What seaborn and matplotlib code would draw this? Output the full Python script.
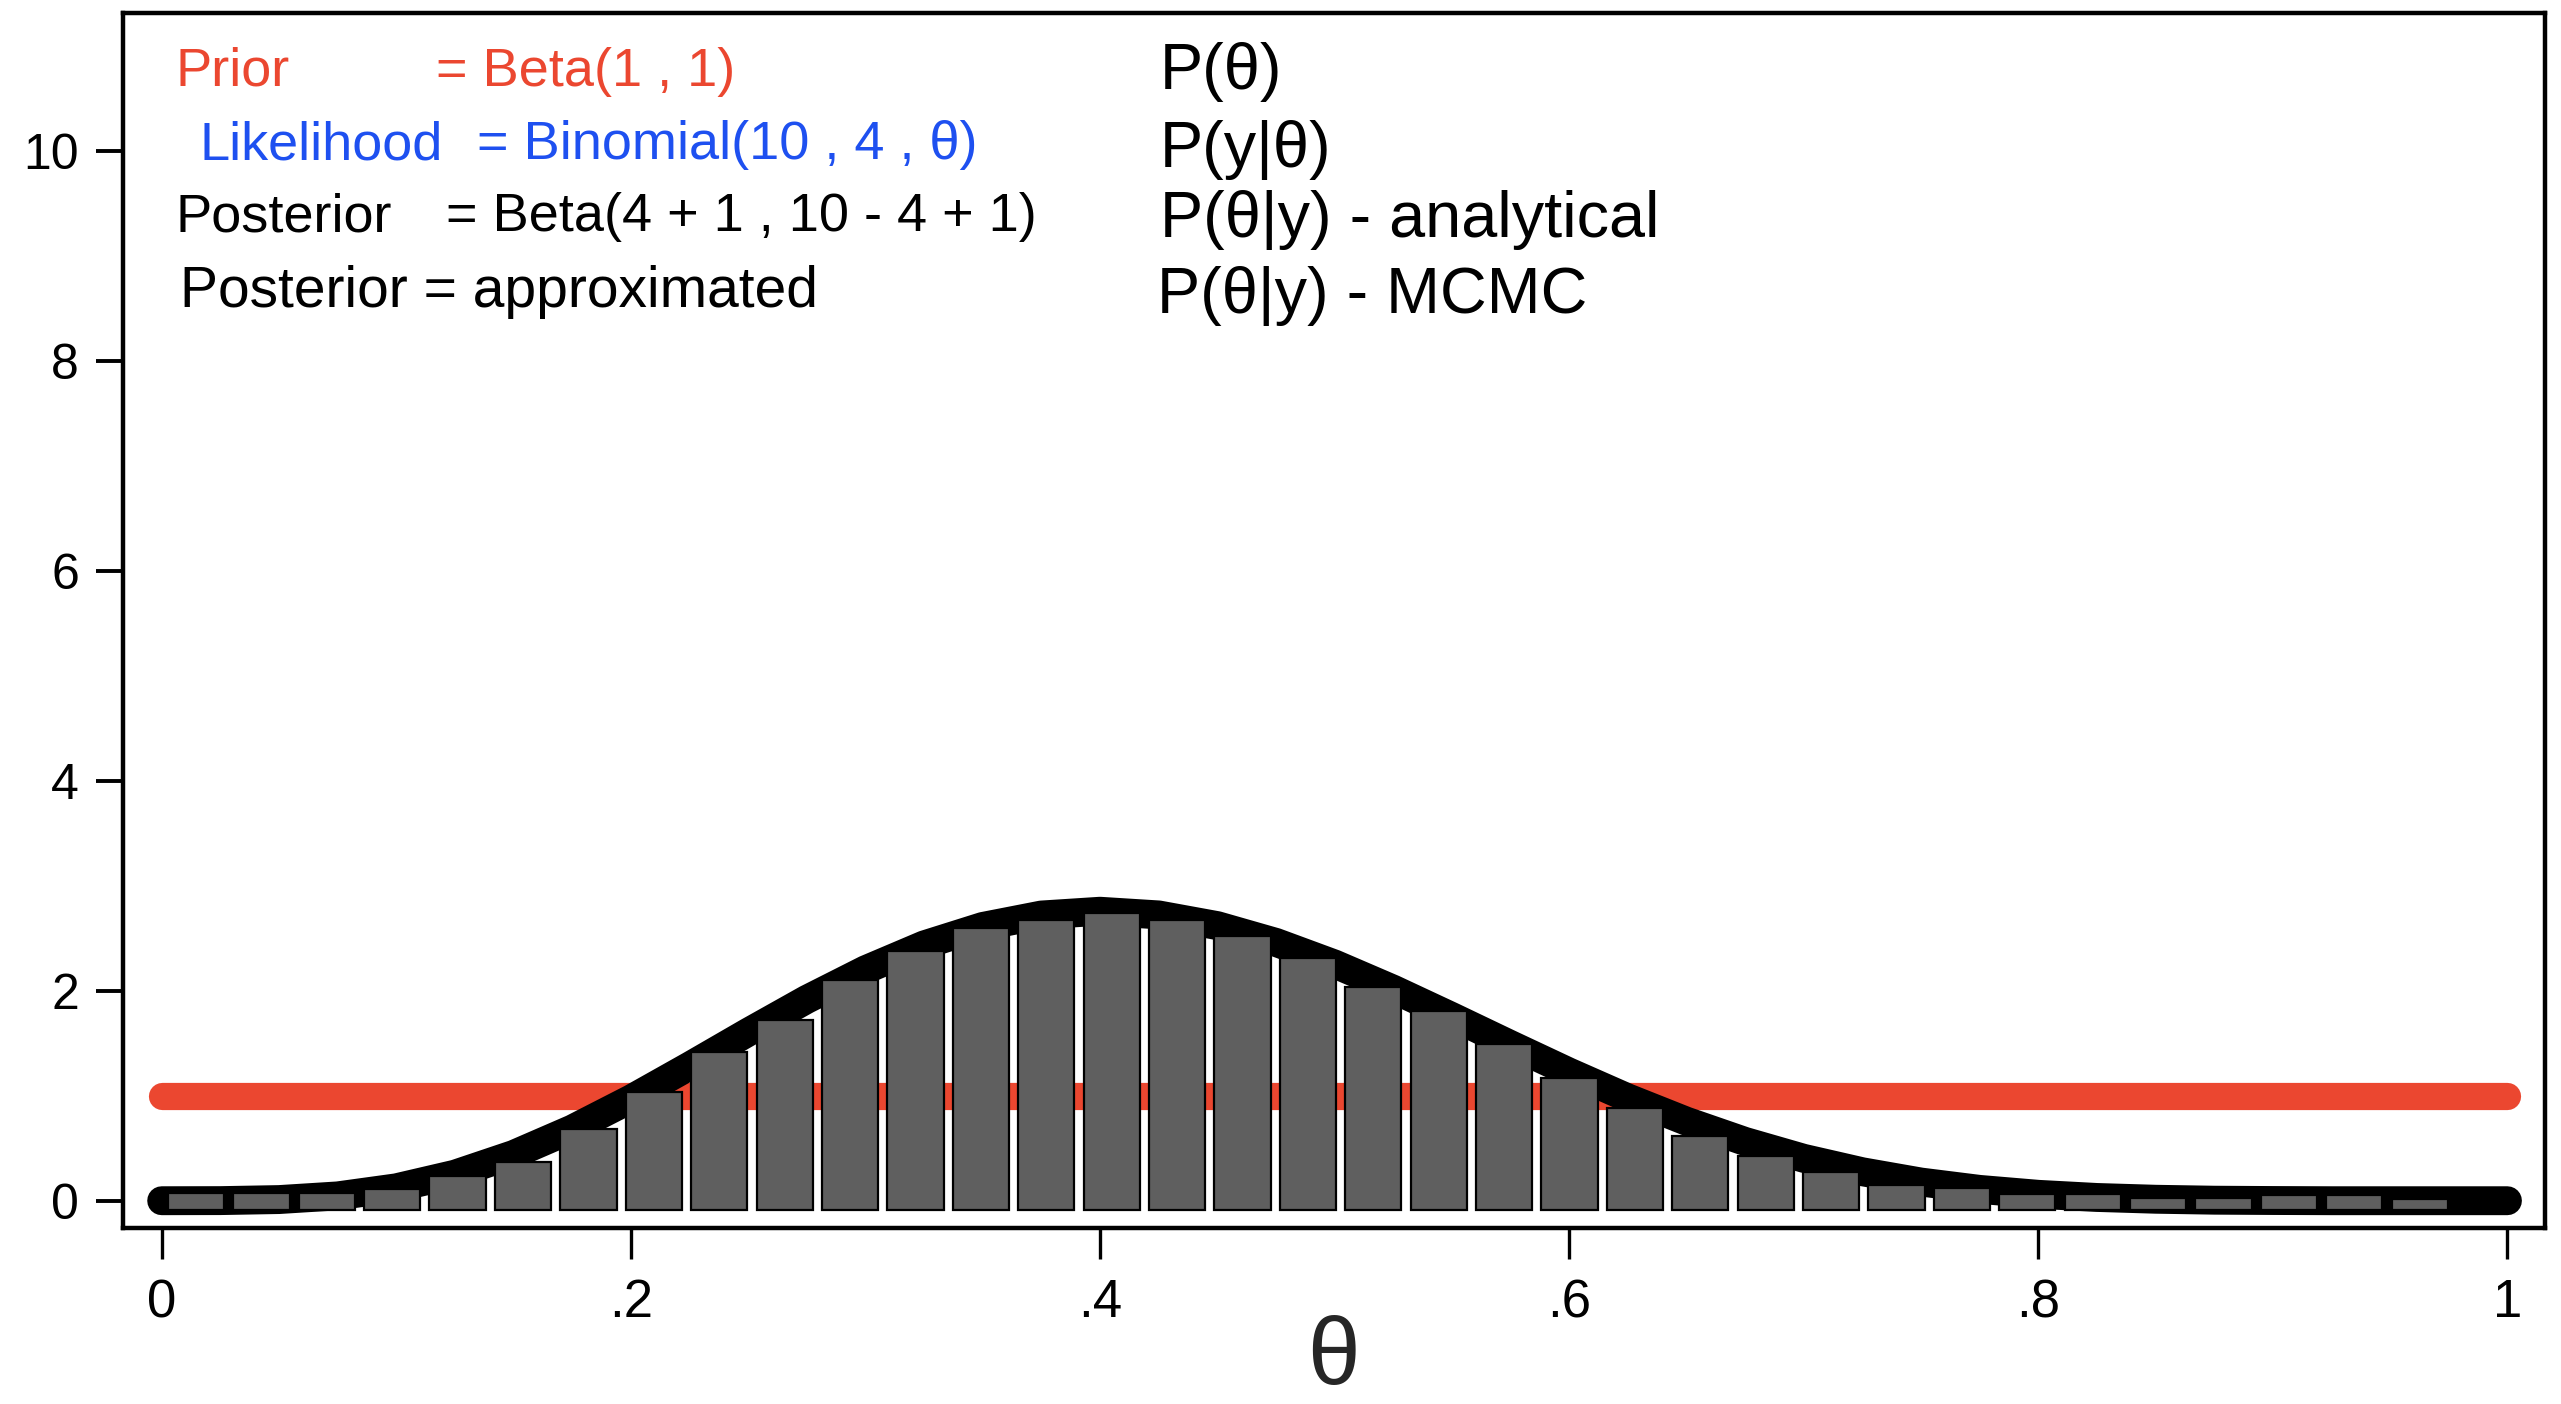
import numpy as np
import pandas as pd
import matplotlib
matplotlib.use("Agg")
import matplotlib.pyplot as plt
import seaborn as sns

# ---------------- data ----------------
theta_grid = [0.000, 0.025, 0.050, 0.075, 0.100, 0.125, 0.150, 0.175, 0.200, 0.225,
              0.250, 0.275, 0.300, 0.325, 0.350, 0.375, 0.400, 0.425, 0.450, 0.475,
              0.500, 0.525, 0.550, 0.575, 0.600, 0.625, 0.650, 0.675, 0.700, 0.725,
              0.750, 0.775, 0.800, 0.825, 0.850, 0.875, 0.900, 0.925, 0.950, 0.975, 1.000]
posterior_analytical = [0.000, 0.001, 0.011, 0.046, 0.123, 0.253, 0.441, 0.683, 0.969, 1.283,
                        1.606, 1.919, 2.201, 2.438, 2.614, 2.723, 2.759, 2.724, 2.622, 2.462,
                        2.256, 2.016, 1.755, 1.488, 1.226, 0.980, 0.758, 0.565, 0.404, 0.276,
                        0.178, 0.108, 0.061, 0.031, 0.014, 0.005, 0.002, 0.000, 0.000, 0.000, 0.000]

prior_theta = [0.0, 1.0]
prior_density = [1.0, 1.0]

# MCMC histogram: 35 bins between the smallest and largest draw
mcmc_min, mcmc_max, mcmc_bins = 0.0007, 0.9765, 35
mcmc_density = [0.07, 0.07, 0.07, 0.11, 0.24, 0.37, 0.68, 1.04, 1.42, 1.72,
                2.10, 2.38, 2.60, 2.68, 2.74, 2.68, 2.52, 2.31, 2.04, 1.81,
                1.49, 1.17, 0.88, 0.62, 0.43, 0.27, 0.15, 0.12, 0.06, 0.06,
                0.03, 0.03, 0.05, 0.05, 0.015]

x_ticks = [0, 0.2, 0.4, 0.6, 0.8, 1.0]
x_ticklabels = ["0", ".2", ".4", ".6", ".8", "1"]
y_ticks = [0, 2, 4, 6, 8, 10]
y_ticklabels = ["0", "2", "4", "6", "8", "10"]

legend_left = [("Prior", "= Beta(1 , 1)", "#EB4730"),
               ("Likelihood", "= Binomial(10 , 4 , θ)", "#1E50F0"),
               ("Posterior", "= Beta(4 + 1 , 10 - 4 + 1)", "black")]
legend_mcmc = "Posterior = approximated"
legend_right = ["P(θ)", "P(y|θ)", "P(θ|y) - analytical", "P(θ|y) - MCMC"]

# ---------------- style ----------------
sns.set_style("white")
FONT = ["Liberation Sans", "DejaVu Sans"]
plt.rcParams["font.family"] = FONT

W, H, DPI = 2561, 1404, 200
fig = plt.figure(figsize=(W / DPI, H / DPI), dpi=DPI)
ax = fig.add_axes([122.5 / W, 1 - 1228 / H, (2545 - 122.5) / W, (1228 - 13) / H])

RED = "#EB4730"
LW = 9.8  # points, ~27 px

# prior line
sns.lineplot(x=prior_theta, y=prior_density, ax=ax, color=RED, linewidth=LW,
             solid_capstyle="round", estimator=None, sort=False, zorder=2)
# analytical posterior
sns.lineplot(x=theta_grid, y=posterior_analytical, ax=ax, color="black", linewidth=LW + 0.6,
             solid_capstyle="round", estimator=None, sort=False, zorder=3)

# MCMC histogram
edges = [float(e) for e in np.linspace(mcmc_min, mcmc_max, mcmc_bins + 1)]
centers = [(a + b) / 2 for a, b in zip(edges[:-1], edges[1:])]
hist_df = pd.DataFrame({"theta": centers, "density": mcmc_density})
n_before = len(ax.patches)
sns.histplot(data=hist_df, x="theta", weights="density", bins=edges, stat="count",
             shrink=0.86, color="#5F5F5F", alpha=1, edgecolor="black", linewidth=0.8,
             ax=ax, zorder=4)
BASE = -0.09
for p in ax.patches[n_before:]:
    h = p.get_height()
    p.set_y(BASE)
    p.set_height(h - BASE)

ax.set_xlim(-0.0167, 1.016)
ax.set_ylim(-0.26, 11.32)

ax.set_xticks(x_ticks)
ax.set_xticklabels(x_ticklabels, fontsize=19)
ax.set_yticks(y_ticks)
ax.set_yticklabels(y_ticklabels, fontsize=18)
ax.tick_params(axis="y", direction="out", length=9.7, width=1.4, pad=6, left=True, colors="black")
ax.tick_params(axis="x", direction="out", length=11, width=1.2, pad=7, bottom=True, colors="black")
for s in ax.spines.values():
    s.set_visible(True)
    s.set_color("black")
    s.set_linewidth(1.6)

ax.set_ylabel("")
ax.set_xlabel("θ", fontsize=34)
ax.xaxis.set_label_coords(0.5, -0.108)
ax.xaxis.label.set_va("center")

# ---------------- legend-like texts ----------------
def fx(px):
    return px / W

def fy(py):
    return 1 - py / H

left_pos = [((175, 72), (436, 72)), ((199, 145), (477, 145)), ((175, 217), (446, 217))]
for (lab, eq, col), ((x1, y1), (x2, y2)) in zip(legend_left, left_pos):
    fig.text(fx(x1), fy(y1), lab, color=col, fontsize=19.5, ha="left", va="center", family=FONT)
    fig.text(fx(x2), fy(y2), eq, color=col, fontsize=19.5, ha="left", va="center", family=FONT)
fig.text(fx(180), fy(292), legend_mcmc, color="black", fontsize=20.5, ha="left", va="center", family=FONT)

right_pos = [(1160, 72), (1160, 150), (1160, 220), (1157, 296)]
for txt, (x, y) in zip(legend_right, right_pos):
    fig.text(fx(x), fy(y), txt, color="black", fontsize=23.3, ha="left", va="center", family=FONT)

fig.savefig("out.png", dpi=DPI, facecolor="white")
